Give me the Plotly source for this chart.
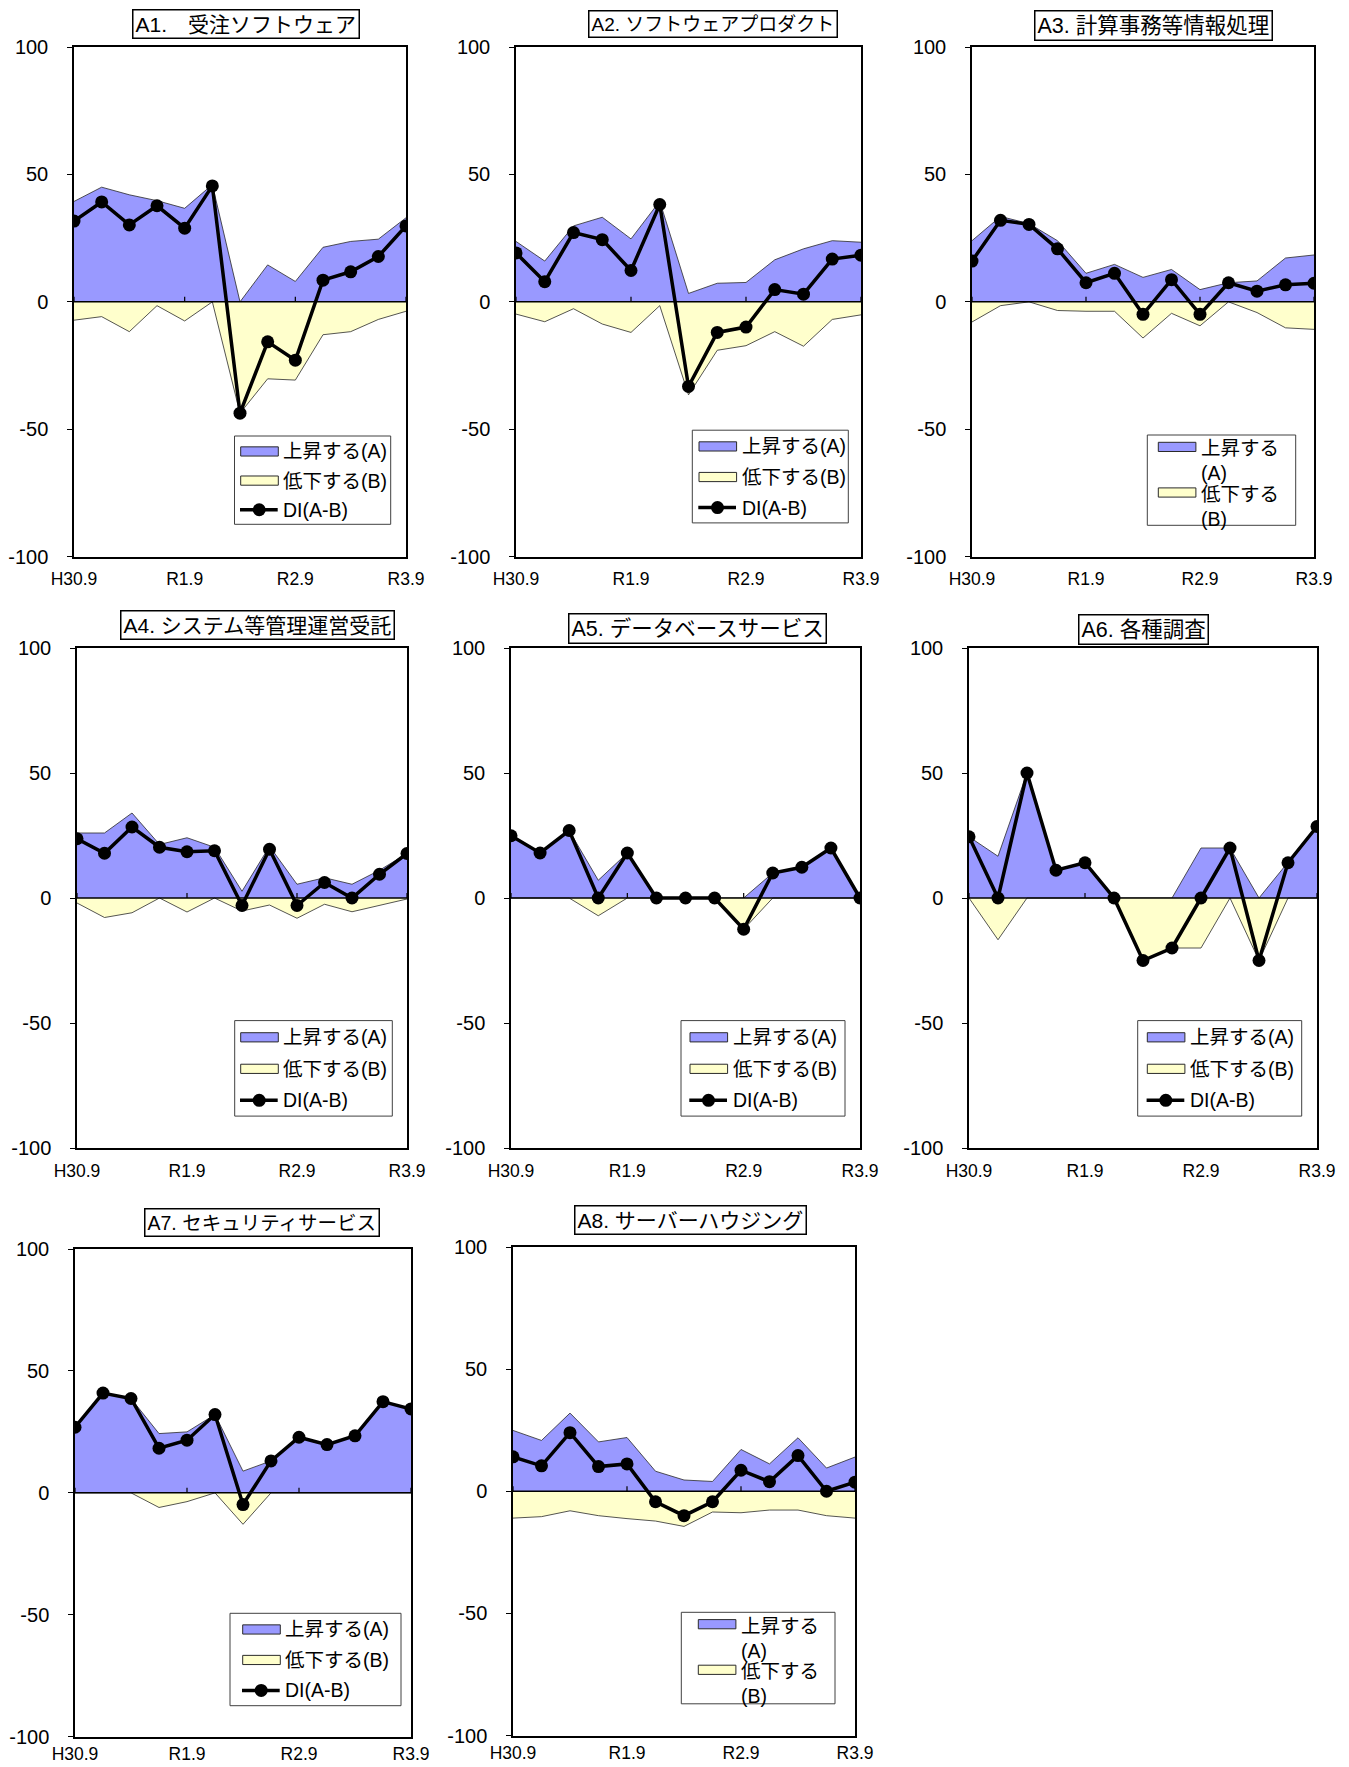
import plotly.graph_objects as go

# ---------------- data ----------------
periods = ["H30.9", "H30.12", "H31.3", "R1.6", "R1.9", "R1.12", "R2.3",
           "R2.6", "R2.9", "R2.12", "R3.3", "R3.6", "R3.9"]
tick_labels = ["H30.9", "R1.9", "R2.9", "R3.9"]
y_ticks = [-100, -50, 0, 50, 100]
y_tick_text = ["-100", "-50", "0", "50", "100"]

titles = ["A1.　受注ソフトウェア", "A2. ソフトウェアプロダクト", "A3. 計算事務等情報処理",
          "A4. システム等管理運営受託", "A5. データベースサービス", "A6. 各種調査",
          "A7. セキュリティサービス", "A8. サーバーハウジング"]

series_names = ["上昇する(A)", "低下する(B)", "DI(A-B)"]
series_names_wrapped = ["上昇する<br>(A)", "低下する<br>(B)"]

A1_up = [39.4, 45, 42, 39.7, 36.7, 46, 0, 14.5, 8, 21.4, 23.7, 24.6, 33]
A1_down = [-7.2, -5.8, -11.7, -1.5, -7.5, 0, -43.7, -30.2, -30.7, -12.9, -11.7, -6.9, -3.7]
A1_di = [31.7, 39.2, 30.2, 37.7, 28.9, 45.5, -43.7, -15.7, -22.9, 8.5, 11.8, 17.8, 29.8]

A2_up = [23.7, 16, 29.8, 33.2, 24.7, 39.5, 3.3, 7.3, 7.6, 16.5, 20.8, 24, 23.4]
A2_down = [-4.8, -7.8, -2.7, -8.7, -12, -1.5, -36.5, -19, -17.2, -11.7, -17.4, -6.9, -5.1]
A2_di = [19.2, 7.9, 27.2, 24.4, 12.3, 38.2, -33.2, -12, -9.9, 4.8, 3, 16.8, 18.3]

A3_up = [24, 33.5, 30.7, 24, 11.2, 14.7, 9.6, 12.7, 4.8, 7.5, 8.2, 17.2, 18.4]
A3_down = [-7.9, -1.5, 0, -3.4, -3.7, -3.7, -14.2, -4.5, -9.4, 0, -4.2, -10.2, -10.8]
A3_di = [16, 32, 30.4, 20.8, 7.5, 11.2, -4.9, 8.7, -4.9, 7.5, 4.2, 6.7, 7.3]

A4_up = [26, 26, 34, 21.4, 24.1, 20.3, 2.7, 20.7, 5.5, 8.1, 5.5, 11.1, 17.8]
A4_down = [-2, -7.8, -5.9, 0, -5.6, 0, -5.2, -2.8, -8.1, -2.5, -5.5, -3, -0.4]
A4_di = [23.7, 17.9, 28.4, 20.3, 18.5, 18.9, -3, 19.5, -3, 6.2, 0, 9.5, 17.8]

A5_up = [24.9, 18, 27, 7.1, 18, 0, 0, 0, 0, 10, 12.3, 20, 0]
A5_down = [0, 0, 0, -7.1, 0, 0, 0, 0, -12.5, 0, 0, 0, 0]
A5_di = [24.9, 18, 27, 0, 18, 0, 0, 0, -12.5, 10, 12.3, 20, 0]

A6_up = [24.5, 16.7, 50, 11.1, 14.1, 0, 0, 0, 20, 20, 0, 14.1, 28.6]
A6_down = [0, -16.7, 0, 0, 0, 0, -25, -20, -20, 0, -25, 0, 0]
A6_di = [24.5, 0, 50, 11.1, 14.1, 0, -25, -20, 0, 20, -25, 14.1, 28.6]

A7_up = [26.9, 40.9, 38.7, 24.3, 25, 32.1, 8.9, 13.1, 22.8, 19.8, 23.4, 37.4, 34.4]
A7_down = [0, 0, 0, -6, -3.6, 0, -12.9, 0, 0, 0, 0, 0, 0]
A7_di = [26.9, 40.9, 38.7, 18.3, 21.6, 32.1, -4.8, 13.1, 22.8, 19.8, 23.4, 37.4, 34.4]

A8_up = [24.9, 20.8, 32, 20.2, 22, 8.2, 4.6, 4, 17.1, 11.2, 21.9, 9.5, 14]
A8_down = [-11, -10.4, -8, -10, -11.2, -12.2, -14.4, -8.5, -8.8, -7.7, -7.7, -10, -11]
A8_di = [14.1, 10.4, 24, 10.1, 11.2, -4.3, -10, -4.3, 8.6, 3.9, 14.6, 0, 3.7]

panel_data = [
    (A1_up, A1_down, A1_di), (A2_up, A2_down, A2_di), (A3_up, A3_down, A3_di),
    (A4_up, A4_down, A4_di), (A5_up, A5_down, A5_di), (A6_up, A6_down, A6_di),
    (A7_up, A7_down, A7_di), (A8_up, A8_down, A8_di),
]
wrapped_legend = [False, False, True, False, False, False, False, True]

# ---------------- layout (pixels) ----------------
W, H = 1349, 1767
# plot boxes: x0, x1, y0(top), y1(bottom)
boxes = [
    (74, 406, 47, 556.7), (516, 861, 47, 556.7), (972, 1314, 47, 556.7),
    (77, 407, 648, 1148), (511, 860, 648, 1148), (969, 1317, 648, 1148),
    (75, 411, 1249, 1736.7), (513, 855, 1247, 1735.5),
]
x_label_standoff = [6, 6, 6, 6, 6, 6, 1, 1]
title_centers = [
    (245.8, 23.8), (713, 23.8), (1153, 25.3),
    (257, 625), (697, 628.3), (1143, 629.5),
    (262, 1222.2), (690.5, 1220.3),
]
title_sizes = [21, 19, 21.5, 21, 21.5, 21.5, 19.5, 21]
# legend box: left, top, width, height, swatch offset
legend_boxes = [
    (234.5, 436, 156.2, 88.3, 6.2), (692.3, 430.2, 156, 92.7, 6.7),
    (1147.3, 435, 148.4, 90.3, 11),
    (234.7, 1020.6, 157.6, 95.5, 6), (681, 1020.6, 164, 95.5, 9),
    (1137.7, 1020.6, 164, 95.5, 9.6),
    (230, 1613.3, 171, 92.4, 12.7), (681.3, 1612.3, 153.7, 91.5, 17),
]
legend_fracs = [0.175, 0.505, 0.835]
wrapped_offsets = [11.9, 57.5]

FONT = "Liberation Sans, Arial, Noto Sans CJK JP, sans-serif"
COL_A = "#9999FF"
COL_B = "#FFFFCC"
EDGE = "#2a2a2a"
SW_W = 37.6
LEG_FONT = 19.5


def px(x):
    return x / W


def py(y):
    return 1 - y / H


fig = go.Figure()
shapes = []
annotations = []
layout = dict(
    width=W, height=H, autosize=False,
    margin=dict(l=0, r=0, t=0, b=0, autoexpand=False),
    paper_bgcolor="white", plot_bgcolor="white",
    font=dict(family=FONT, color="black"),
    showlegend=False,
)

tick_idx = [periods.index(t) for t in tick_labels]

for i, ((up, down, di), box, tc, lb, wrap) in enumerate(
        zip(panel_data, boxes, title_centers, legend_boxes, wrapped_legend)):
    n = i + 1
    sfx = "" if n == 1 else str(n)
    xa, ya = "x" + sfx, "y" + sfx

    fig.add_trace(go.Scatter(
        x=periods, y=up, mode="lines", fill="tozeroy", fillcolor=COL_A,
        line=dict(color=EDGE, width=0.8), name=series_names[0],
        xaxis=xa, yaxis=ya, hoverinfo="x+y+name"))
    fig.add_trace(go.Scatter(
        x=periods, y=down, mode="lines", fill="tozeroy", fillcolor=COL_B,
        line=dict(color=EDGE, width=0.8), name=series_names[1],
        xaxis=xa, yaxis=ya, hoverinfo="x+y+name"))
    fig.add_trace(go.Scatter(
        x=periods, y=di, mode="lines+markers",
        line=dict(color="black", width=3.5),
        marker=dict(color="black", size=13),
        name=series_names[2], xaxis=xa, yaxis=ya))

    x0, x1, y0, y1 = box
    layout["xaxis" + sfx] = dict(
        domain=[px(x0), px(x1)], anchor=ya, type="category",
        categoryorder="array", categoryarray=periods,
        range=[0, len(periods) - 1], tickmode="array", tickvals=tick_labels,
        ticktext=tick_labels, ticks="", showgrid=False, zeroline=False,
        showline=True, mirror=True, linecolor="black", linewidth=1.5,
        tickfont=dict(size=17.5), ticklabelstandoff=x_label_standoff[i],
        fixedrange=True)
    layout["yaxis" + sfx] = dict(
        domain=[py(y1), py(y0)], anchor=xa, range=[-100, 100],
        tickmode="array", tickvals=y_ticks, ticktext=y_tick_text,
        ticks="outside", ticklen=5, tickcolor="black", showgrid=False,
        zeroline=False, showline=True, mirror=True, linecolor="black",
        linewidth=1.5, tickfont=dict(size=20), ticklabelstandoff=15,
        fixedrange=True)

    # zero line (category axis crossing)
    shapes.append(dict(type="line", xref=xa + " domain", x0=0, x1=1,
                       yref=ya, y0=0, y1=0, layer="above",
                       line=dict(color="black", width=1.5)))
    # small ticks on the crossing line
    for t in tick_idx:
        shapes.append(dict(type="line", xref=xa, x0=t, x1=t, yref=ya,
                           ysizemode="pixel", yanchor=0, y0=0, y1=5,
                           layer="above", line=dict(color="black", width=1.2)))

    # panel title
    annotations.append(dict(
        xref="paper", yref="paper", x=px(tc[0]), y=py(tc[1]),
        xanchor="center", yanchor="middle", text=titles[i], showarrow=False,
        font=dict(size=title_sizes[i]), bgcolor="white", bordercolor="black",
        borderwidth=1.5, borderpad=2))

    # legend (box, swatches, labels)
    bx, by, bw, bh, so = lb
    shapes.append(dict(type="rect", xref="paper", yref="paper",
                       x0=px(bx), x1=px(bx + bw), y0=py(by + bh), y1=py(by),
                       fillcolor="white", line=dict(color="#404040", width=1),
                       layer="above"))
    if wrap:
        centers = [by + d for d in wrapped_offsets]
        labels = series_names_wrapped
    else:
        centers = [by + bh * f for f in legend_fracs]
        labels = series_names
    for k, cy in enumerate(centers):
        if k < 2:
            shapes.append(dict(type="rect", xref="paper", yref="paper",
                               x0=px(bx + so), x1=px(bx + so + SW_W),
                               y0=py(cy + 4.6), y1=py(cy - 4.6),
                               fillcolor=[COL_A, COL_B][k],
                               line=dict(color=EDGE, width=1), layer="above"))
        else:
            shapes.append(dict(type="line", xref="paper", yref="paper",
                               x0=px(bx + so - 0.7), x1=px(bx + so + 37),
                               y0=py(cy), y1=py(cy), layer="above",
                               line=dict(color="black", width=3.5)))
            cx = bx + so + 18.5
            shapes.append(dict(type="circle", xref="paper", yref="paper",
                               x0=px(cx - 6.5), x1=px(cx + 6.5),
                               y0=py(cy + 6.5), y1=py(cy - 6.5),
                               fillcolor="black", line=dict(color="black", width=0),
                               layer="above"))
        if wrap:
            annotations.append(dict(
                xref="paper", yref="paper", x=px(bx + so + SW_W + 4),
                y=py(cy + 1 + 12.8), xanchor="left", yanchor="middle",
                align="left", text=labels[k], showarrow=False,
                font=dict(size=LEG_FONT), borderpad=0))
        else:
            annotations.append(dict(
                xref="paper", yref="paper", x=px(bx + so + SW_W + 4),
                y=py(cy), xanchor="left", yanchor="middle",
                text=labels[k], showarrow=False,
                font=dict(size=LEG_FONT), borderpad=0))

layout["shapes"] = shapes
layout["annotations"] = annotations
fig.update_layout(**layout)

fig.write_html("out.html", config={"displayModeBar": False},
               post_script="document.body.style.margin='0';")
